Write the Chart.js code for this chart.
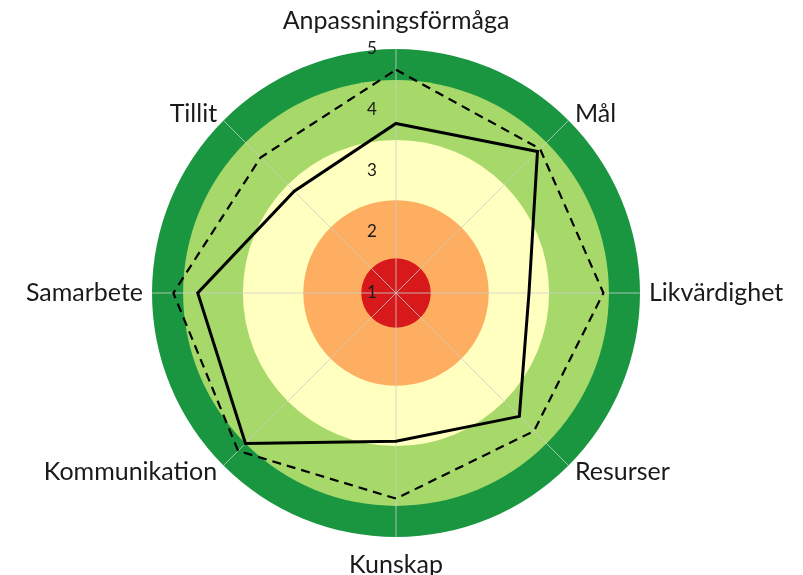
<!DOCTYPE html>
<html><head><meta charset="utf-8">
<script src="https://cdn.jsdelivr.net/npm/chart.js@4"></script>
<style>html,body{margin:0;padding:0;background:#fff}canvas{display:block}</style>
</head><body>
<canvas id="c" width="803" height="575"></canvas>
<script>
const categories = ['Anpassningsförmåga','Mål','Likvärdighet','Resurser','Kunskap','Kommunikation','Samarbete','Tillit'];
const currentValues = [3.78, 4.28, 3.18, 3.86, 3.43, 4.49, 4.25, 3.36];
const targetValues  = [4.66, 4.34, 4.40, 4.20, 4.37, 4.66, 4.65, 4.14];
const tickValues = [1, 2, 3, 4, 5];
const bandLimits = [5, 4.49, 3.51, 2.52, 1.57];
const bandColors = ['#1a9641', '#a6d96a', '#ffffbf', '#fdae61', '#d7191c'];

const bandsPlugin = {
  id: 'bands',
  beforeDraw(chart) {
    const s = chart.scales.r, ctx = chart.ctx;
    ctx.save();
    bandLimits.forEach((v, i) => {
      ctx.beginPath();
      ctx.arc(s.xCenter, s.yCenter, s.getDistanceFromCenterForValue(v), 0, Math.PI * 2);
      ctx.fillStyle = bandColors[i];
      ctx.fill();
    });
    ctx.restore();
  }
};

const labelsPlugin = {
  id: 'labels',
  afterDraw(chart) {
    const s = chart.scales.r, ctx = chart.ctx;
    ctx.save();
    ctx.fillStyle = '#1a1a1a';
    ctx.font = '17px Lato';
    ctx.textAlign = 'center';
    ctx.textBaseline = 'middle';
    tickValues.forEach(v => {
      const p = s.getPointPositionForValue(0, v);
      ctx.fillText(String(v), p.x - 24, p.y);
    });
    ctx.font = '25px Lato';
    categories.forEach((lab, i) => {
      const a = s.getIndexAngle(i);
      const sn = Math.sin(a);
      const vertical = Math.abs(sn) < 0.01;
      const p = s.getPointPosition(i, s.drawingArea + (vertical ? 28 : 9));
      ctx.textAlign = vertical ? 'center' : (sn > 0 ? 'left' : 'right');
      ctx.textBaseline = 'middle';
      ctx.fillText(lab, p.x, p.y);
    });
    ctx.restore();
  }
};

new Chart(document.getElementById('c'), {
  type: 'radar',
  data: {
    labels: categories,
    datasets: [
      { label: 'Nuläge', data: currentValues, borderColor: '#000', borderWidth: 3, borderJoinStyle: 'miter', fill: false, pointRadius: 0 },
      { label: 'Mål', data: targetValues, borderColor: '#000', borderWidth: 2.2, borderDash: [9, 6], borderJoinStyle: 'miter', fill: false, pointRadius: 0 }
    ]
  },
  options: {
    responsive: false,
    devicePixelRatio: 1,
    animation: false,
    layout: { padding: { left: 0, right: 11, top: 49, bottom: 38 } },
    plugins: { legend: { display: false }, tooltip: { enabled: false } },
    elements: { line: { tension: 0 } },
    scales: {
      r: {
        min: 1, max: 5,
        ticks: { display: false, stepSize: 1 },
        grid: { display: false },
        angleLines: { display: true, color: 'rgba(205,205,205,0.8)', lineWidth: 1 },
        pointLabels: { display: false }
      }
    }
  },
  plugins: [bandsPlugin, labelsPlugin]
});
</script>
</body></html>
